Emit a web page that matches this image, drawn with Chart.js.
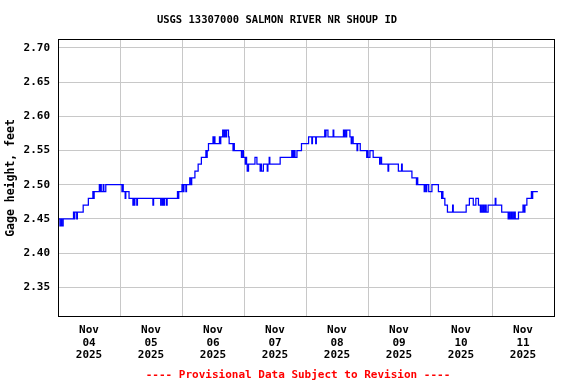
<!DOCTYPE html>
<html>
<head>
<meta charset="utf-8">
<script src="https://cdn.jsdelivr.net/npm/chart.js@4/dist/chart.umd.min.js"></script>
<style>
  html, body { margin: 0; padding: 0; background: #fff; }
  #wrap { width: 576px; height: 384px; }
</style>
</head>
<body>
<div id="wrap"><canvas id="gage"></canvas></div>
<script>
// hours since Nov 04 2025 00:00, value holds until the next entry
const hours = [
  0, 0.75, 1.25, 1.5, 2, 6, 6.25, 6.5, 7.25, 7.5, 9.75, 11.75, 13.5, 13.75, 14,
  16, 16.25, 16.5, 16.75, 17.5, 17.75, 18.5, 24.75, 25, 25.25, 26, 26.25, 27.5,
  29, 29.25, 29.5, 29.75, 30.5, 30.75, 36.75, 37, 39.75, 40, 40.5, 40.75, 41, 41.25,
  42, 42.25, 46.25, 46.5, 46.75, 48, 48.5, 48.75, 49.5, 49.75, 51, 51.5, 51.75,
  53, 54.25, 55.5, 57.25, 57.5, 57.75, 58.25, 60, 60.25, 60.5, 60.75, 62.5, 62.75,
  63, 63.75, 64.25, 64.5, 65, 65.25, 66, 66.25, 67.75, 68, 68.25, 71, 71.5, 71.75,
  72.5, 72.75, 73, 73.25, 73.75, 76.25, 77, 78.25, 78.5, 78.75, 79.5, 81, 81.25,
  81.75, 82, 86, 90.5, 90.75, 91, 91.25, 91.5, 91.75, 92.5, 94.25, 97, 98.25, 98.5,
  99.75, 100, 103.25, 103.5, 103.75, 104.5, 106.5, 106.75, 110.5, 110.75, 111,
  111.5, 111.75, 113, 113.5, 113.75, 114.25, 115.75, 116, 117, 119.5, 119.75, 120,
  120.75, 122, 124.5, 124.75, 125.25, 127.75, 128, 131.75, 133, 133.25, 137,
  138.75, 139, 139.25, 141.75, 142, 142.5, 142.75, 143.5, 144.75, 147.25, 148.5,
  148.75, 149, 149.75, 150.75, 152.75, 153, 158, 159.25, 160.75, 161.75, 162.75,
  163.5, 164, 164.25, 164.75, 165, 165.5, 165.75, 166.5, 169.25, 169.5, 171.75,
  174.25, 174.5, 174.75, 175.25, 175.5, 176, 176.25, 176.75, 177, 178.25, 180,
  180.5, 180.75, 181.5, 183.25, 183.5, 183.75, 185.75
];
const gage = [
  2.45, 2.44, 2.45, 2.44, 2.45, 2.46, 2.45, 2.46, 2.45, 2.46, 2.47, 2.48, 2.49, 2.48, 2.49,
  2.50, 2.49, 2.50, 2.49, 2.50, 2.49, 2.50, 2.49, 2.50, 2.49, 2.48, 2.49, 2.48,
  2.47, 2.48, 2.47, 2.48, 2.47, 2.48, 2.47, 2.48, 2.47, 2.48, 2.47, 2.48, 2.47, 2.48,
  2.47, 2.48, 2.49, 2.48, 2.49, 2.50, 2.49, 2.50, 2.49, 2.50, 2.51, 2.50, 2.51,
  2.52, 2.53, 2.54, 2.55, 2.54, 2.55, 2.56, 2.57, 2.56, 2.57, 2.56, 2.57, 2.56,
  2.57, 2.58, 2.57, 2.58, 2.57, 2.58, 2.57, 2.56, 2.55, 2.56, 2.55, 2.54, 2.55, 2.54,
  2.53, 2.54, 2.53, 2.52, 2.53, 2.54, 2.53, 2.52, 2.53, 2.52, 2.53, 2.52, 2.53,
  2.54, 2.53, 2.54, 2.55, 2.54, 2.55, 2.54, 2.55, 2.54, 2.55, 2.56, 2.57, 2.56, 2.57,
  2.56, 2.57, 2.58, 2.57, 2.58, 2.57, 2.58, 2.57, 2.58, 2.57, 2.58,
  2.57, 2.58, 2.57, 2.56, 2.57, 2.56, 2.55, 2.56, 2.55, 2.54, 2.55, 2.54,
  2.55, 2.54, 2.53, 2.54, 2.53, 2.52, 2.53, 2.52, 2.53, 2.52, 2.51,
  2.50, 2.51, 2.50, 2.49, 2.50, 2.49, 2.50, 2.49, 2.50, 2.49, 2.48,
  2.49, 2.48, 2.47, 2.46, 2.47, 2.46, 2.47, 2.48, 2.47, 2.48, 2.47,
  2.46, 2.47, 2.46, 2.47, 2.46, 2.47, 2.46, 2.47, 2.48, 2.47, 2.46,
  2.45, 2.46, 2.45, 2.46, 2.45, 2.46, 2.45, 2.46, 2.45, 2.46, 2.47,
  2.46, 2.47, 2.48, 2.49, 2.48, 2.49, 2.49
];
const dayLabels = ["04", "05", "06", "07", "08", "09", "10", "11"];
const yTicks = [2.35, 2.40, 2.45, 2.50, 2.55, 2.60, 2.65, 2.70];

const mono = "'DejaVu Sans Mono', 'Liberation Mono', monospace";

// frame around the plot + the red provisional note
const extras = {
  id: "extras",
  afterDraw(chart) {
    const { ctx, chartArea: ca } = chart;
    ctx.save();
    ctx.strokeStyle = "#000";
    ctx.lineWidth = 1;
    ctx.strokeRect(ca.left + 0.5, ca.top - 0.5, ca.right - ca.left, ca.bottom - ca.top + 1);
    ctx.fillStyle = "#ff0000";
    ctx.font = "bold 11px " + mono;
    ctx.textAlign = "center";
    ctx.textBaseline = "middle";
    ctx.fillText("---- Provisional Data Subject to Revision ----", 298, 375);
    ctx.restore();
  },
};

new Chart(document.getElementById("gage"), {
  type: "line",
  data: {
    datasets: [
      {
        data: hours.map((h, i) => ({ x: h, y: gage[i] })),
        borderColor: "#0000ff",
        borderWidth: 1.25,
        pointRadius: 0,
        stepped: true,
        fill: false,
      },
    ],
  },
  options: {
    responsive: true,
    maintainAspectRatio: false,
    animation: false,
    layout: { padding: { top: 0, right: 22, bottom: 0, left: 0 } },
    plugins: {
      legend: { display: false },
      tooltip: { enabled: false },
      title: {
        display: true,
        text: "USGS 13307000 SALMON RIVER NR SHOUP ID",
        color: "#000",
        font: { family: mono, size: 10.5, weight: "bold", lineHeight: 1.2 },
        padding: { top: 14, bottom: 13.4 },
      },
    },
    scales: {
      x: {
        type: "linear",
        min: 0,
        max: 192,
        afterBuildTicks: (axis) => {
          const t = [];
          for (let v = 0; v <= 192; v += 12) t.push({ value: v });
          axis.ticks = t;
        },
        afterFit: (s) => { s.height = 68; },
        grid: {
          color: (c) => (c.tick && c.tick.value % 24 === 0 ? "#c8c8c8" : "rgba(0,0,0,0)"),
          drawTicks: false,
        },
        border: { display: false },
        ticks: {
          autoSkip: false,
          maxRotation: 0,
          padding: 8,
          color: "#000",
          font: { family: mono, size: 11, weight: "bold", lineHeight: 1.15 },
          callback: (v) => (v % 24 === 12 ? ["Nov", dayLabels[(v - 12) / 24], "2025"] : ""),
        },
      },
      y: {
        min: 2.308,
        max: 2.7117,
        afterBuildTicks: (axis) => { axis.ticks = yTicks.map((v) => ({ value: v })); },
        afterFit: (s) => { s.width = 58; },
        grid: { color: "#c8c8c8", drawTicks: false },
        border: { display: false },
        ticks: {
          padding: 8,
          color: "#000",
          font: { family: mono, size: 11, weight: "bold" },
          callback: (v) => v.toFixed(2),
        },
        title: {
          display: true,
          text: "Gage height, feet",
          color: "#000",
          font: { family: mono, size: 11.5, weight: "bold" },
          padding: { top: 4, bottom: 0 },
        },
      },
    },
  },
  plugins: [extras],
});
</script>
</body>
</html>
